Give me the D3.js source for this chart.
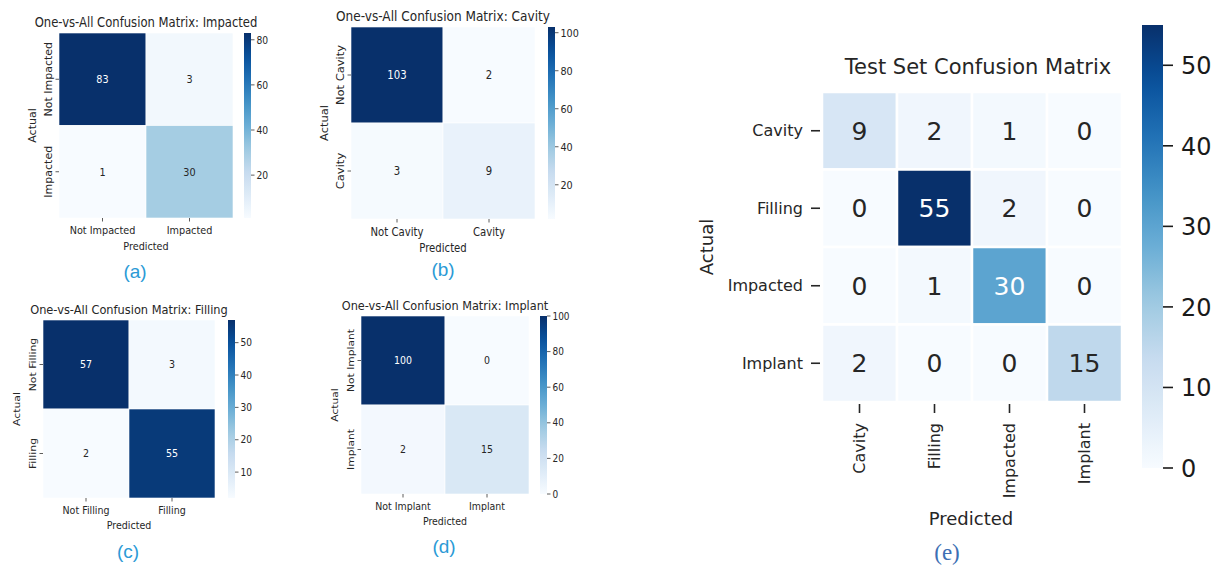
<!DOCTYPE html>
<html>
<head>
	<meta charset="utf-8">
	<script src="https://d3js.org/d3.v7.min.js"></script>
	<title>Confusion matrices</title>
	<style>
		body { margin: 0; background: #fff; }
		text { font-family: "DejaVu Sans", sans-serif; fill: #262626; }
	</style>
</head>
<body>
	<div id="chart"></div>

	<script type="text/javascript">

		// one-vs-all matrices, rows = actual, cols = predicted
		var ovaClasses = ["Impacted", "Cavity", "Filling", "Implant"];
		var ovaMatrices = [
			[[83, 3], [1, 30]],
			[[103, 2], [3, 9]],
			[[57, 3], [2, 55]],
			[[100, 0], [2, 15]]
		];
		var ovaTicks = [
			[20, 40, 60, 80],
			[20, 40, 60, 80, 100],
			[10, 20, 30, 40, 50],
			[0, 20, 40, 60, 80, 100]
		];

		// full 4-class test matrix
		var classes = ["Cavity", "Filling", "Impacted", "Implant"];
		var testMatrix = [
			[9, 2, 1, 0],
			[0, 55, 2, 0],
			[0, 1, 30, 0],
			[2, 0, 0, 15]
		];
		var testTicks = [0, 10, 20, 30, 40, 50];
		var tags = ["(a)", "(b)", "(c)", "(d)", "(e)"];

		// layout of the four small panels (screen px); sx = horizontal squeeze of the source image
		var small = [
			{ x0: 59, x1: 233, y0: 33, y1: 218, cb: 244, k: 11, tagX: 135, tagY: 278 },
			{ x0: 351, x1: 535, y0: 27, y1: 219, cb: 548, k: 11.5, tagX: 443, tagY: 276 },
			{ x0: 43, x1: 215, y0: 320, y1: 498, cb: 228, k: 10.8, tagX: 128, tagY: 558 },
			{ x0: 361, x1: 529, y0: 316, y1: 494, cb: 540, k: 10.7, tagX: 444, tagY: 553 }
		];
		var sx = 0.88;

		var W = 1222, H = 569;
		var svg = d3.select("#chart").append("svg").attr("width", W).attr("height", H);
		var defs = svg.append("defs");

		// matplotlib "Blues" (linear segmented)
		var bluesStops = ["#f7fbff", "#deebf7", "#c6dbef", "#9ecae1", "#6baed6", "#4292c6", "#2171b5", "#08519c", "#08306b"];
		var blues = d3.scaleLinear()
			.domain(d3.range(9).map(function(i){ return i / 8; }))
			.range(bluesStops)
			.interpolate(d3.interpolateRgb);

		function lum(c) {
			var r = d3.rgb(c);
			var f = function(v){ v = v / 255; return v <= 0.03928 ? v / 12.92 : Math.pow((v + 0.055) / 1.055, 2.4); };
			return 0.2126 * f(r.r) + 0.7152 * f(r.g) + 0.0722 * f(r.b);
		}

		function gradient(id) {
			var lg = defs.append("linearGradient").attr("id", id)
				.attr("x1", 0).attr("y1", 1).attr("x2", 0).attr("y2", 0);
			d3.range(0, 1.0001, 0.05).forEach(function(t){
				lg.append("stop").attr("offset", t).attr("stop-color", blues(t));
			});
		}
		gradient("bluesGrad");

		// text helper: squeeze s, optional -90 rotation
		function label(g, x, y, str, size, s, rot, anchor) {
			return g.append("text")
				.attr("transform", "translate(" + x + "," + y + ") scale(" + s + ",1)" + (rot ? " rotate(-90)" : ""))
				.attr("text-anchor", anchor || "middle")
				.style("font-size", size + "px")
				.text(str);
		}

		/* ---------- small one-vs-all panels ---------- */
		small.forEach(function(p, i) {
			var m = ovaMatrices[i];
			var name = ovaClasses[i];
			var names = ["Not " + name, name];
			var flat = d3.merge(m);
			var ext = d3.extent(flat);
			var norm = d3.scaleLinear().domain(ext).range([0, 1]);
			var k = p.k;
			var g = svg.append("g");

			var xs = d3.scaleBand().domain([0, 1]).range([p.x0, p.x1]);
			var ys = d3.scaleBand().domain([0, 1]).range([p.y0, p.y1]);

			var cells = [];
			m.forEach(function(row, r){ row.forEach(function(v, c){ cells.push({ r: r, c: c, v: v }); }); });

			g.selectAll("rect.cell").data(cells).enter().append("rect")
				.attr("class", "cell")
				.attr("x", function(d){ return xs(d.c); })
				.attr("y", function(d){ return ys(d.r); })
				.attr("width", xs.bandwidth())
				.attr("height", ys.bandwidth())
				.attr("fill", function(d){ return blues(norm(d.v)); })
				.attr("stroke", "#fff").attr("stroke-width", 0.6);

			cells.forEach(function(d){
				var col = blues(norm(d.v));
				label(g, xs(d.c) + xs.bandwidth() / 2, ys(d.r) + ys.bandwidth() / 2 + k * 0.36, d.v, k, sx)
					.style("fill", lum(col) > 0.408 ? "#262626" : "#ffffff");
			});

			// ticks + tick labels
			[0, 1].forEach(function(j){
				var cx = xs(j) + xs.bandwidth() / 2;
				var cy = ys(j) + ys.bandwidth() / 2;
				g.append("line").attr("x1", cx).attr("x2", cx).attr("y1", p.y1).attr("y2", p.y1 + 3.5)
					.attr("stroke", "#333").attr("stroke-width", 0.8);
				g.append("line").attr("x1", p.x0 - 3.5).attr("x2", p.x0).attr("y1", cy).attr("y2", cy)
					.attr("stroke", "#333").attr("stroke-width", 0.8);
				label(g, cx, p.y1 + k * 1.45, names[j], k, sx);
				label(g, p.x0 - 7.5, cy, names[j], k, sx, true);
			});

			label(g, (p.x0 + p.x1) / 2, p.y0 - 6, "One-vs-All Confusion Matrix: " + name, k * 1.2, sx);
			label(g, (p.x0 + p.x1) / 2, p.y1 + k * 2.9, "Predicted", k, sx);
			label(g, p.x0 - 23, (p.y0 + p.y1) / 2, "Actual", k, sx, true);

			// colorbar
			var cbScale = d3.scaleLinear().domain(ext).range([p.y1, p.y0]);
			g.append("rect").attr("x", p.cb).attr("y", p.y0).attr("width", 7).attr("height", p.y1 - p.y0)
				.attr("fill", "url(#bluesGrad)");
			ovaTicks[i].forEach(function(t){
				var y = cbScale(t);
				g.append("line").attr("x1", p.cb + 7).attr("x2", p.cb + 10.5).attr("y1", y).attr("y2", y)
					.attr("stroke", "#333").attr("stroke-width", 0.8);
				label(g, p.cb + 12.5, y + k * 0.34, t, k * 0.95, sx, false, "start");
			});

			svg.append("text")
				.attr("x", p.tagX).attr("y", p.tagY)
				.attr("text-anchor", "middle")
				.style("font-family", "'Liberation Sans', sans-serif")
				.style("font-size", "19px")
				.style("fill", "#2b9ad6")
				.text(tags[i]);
		});

		/* ---------- large test-set panel ---------- */
		var E = { x0: 822, x1: 1122, y0: 92, y1: 402, cbx: 1142, cbw: 21, cby0: 25, cby1: 468 };
		var ge = svg.append("g");
		var eExt = d3.extent(d3.merge(testMatrix));
		var eNorm = d3.scaleLinear().domain(eExt).range([0, 1]);
		var ex = d3.scaleBand().domain(classes).range([E.x0, E.x1]);
		var ey = d3.scaleBand().domain(classes).range([E.y0, E.y1]);

		var eCells = [];
		testMatrix.forEach(function(row, r){
			row.forEach(function(v, c){ eCells.push({ a: classes[r], p: classes[c], v: v }); });
		});

		ge.selectAll("rect.ecell").data(eCells).enter().append("rect")
			.attr("class", "ecell")
			.attr("x", function(d){ return ex(d.p); })
			.attr("y", function(d){ return ey(d.a); })
			.attr("width", ex.bandwidth())
			.attr("height", ey.bandwidth())
			.attr("fill", function(d){ return blues(eNorm(d.v)); })
			.attr("stroke", "#fff").attr("stroke-width", 2.5);

		ge.selectAll("text.eann").data(eCells).enter().append("text")
			.attr("class", "eann")
			.attr("x", function(d){ return ex(d.p) + ex.bandwidth() / 2; })
			.attr("y", function(d){ return ey(d.a) + ey.bandwidth() / 2 + 9; })
			.attr("text-anchor", "middle")
			.style("font-size", "25px")
			.style("fill", function(d){ return lum(blues(eNorm(d.v))) > 0.408 ? "#262626" : "#ffffff"; })
			.text(function(d){ return d.v; });

		classes.forEach(function(c){
			var cx = ex(c) + ex.bandwidth() / 2;
			var cy = ey(c) + ey.bandwidth() / 2;
			ge.append("line").attr("x1", E.x0 - 11).attr("x2", E.x0 - 2).attr("y1", cy).attr("y2", cy)
				.attr("stroke", "#262626").attr("stroke-width", 1.6);
			label(ge, E.x0 - 19, cy + 5.5, c, 16, 1, false, "end");
			ge.append("line").attr("x1", cx).attr("x2", cx).attr("y1", E.y1 + 2).attr("y2", E.y1 + 11)
				.attr("stroke", "#262626").attr("stroke-width", 1.6);
			label(ge, cx + 5.8, E.y1 + 21, c, 16, 1, true, "end");
		});

		label(ge, 978, 74, "Test Set Confusion Matrix", 21, 1);
		label(ge, 971, 525, "Predicted", 18, 1);
		label(ge, 713, 247, "Actual", 18, 1, true);

		var eCb = d3.scaleLinear().domain(eExt).range([E.cby1, E.cby0]);
		ge.append("rect").attr("x", E.cbx).attr("y", E.cby0).attr("width", E.cbw).attr("height", E.cby1 - E.cby0)
			.attr("fill", "url(#bluesGrad)");
		testTicks.forEach(function(t){
			var y = eCb(t);
			ge.append("line").attr("x1", E.cbx + E.cbw).attr("x2", E.cbx + E.cbw + 10).attr("y1", y).attr("y2", y)
				.attr("stroke", "#1a1a1a").attr("stroke-width", 1.6);
			label(ge, E.cbx + E.cbw + 18, y + 8.7, t, 24, 1, false, "start").style("fill", "#1a1a1a");
		});

		svg.append("text")
			.attr("x", 947).attr("y", 560)
			.attr("text-anchor", "middle")
			.style("font-family", "'Liberation Serif', serif")
			.style("font-size", "23px")
			.style("fill", "#3d6fb4")
			.text(tags[4]);

	</script>
</body>
</html>
